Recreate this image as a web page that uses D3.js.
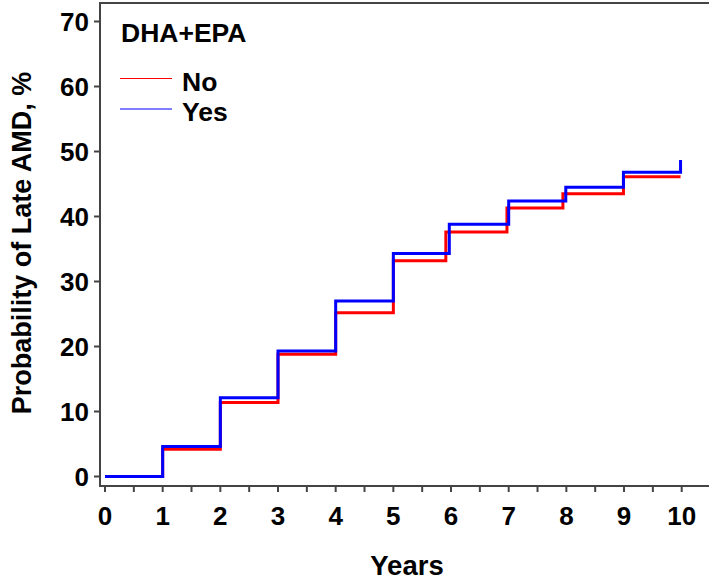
<!DOCTYPE html>
<html>
<head>
<meta charset="utf-8">
<script src="https://cdn.jsdelivr.net/npm/d3@7"></script>
<style>
  body { margin: 0; background: #fff; }
  svg { font-family: 'Liberation Sans', Arial, sans-serif; font-weight: bold; }
</style>
</head>
<body>
<svg id="chart"></svg>
<script>
// step data (years, cumulative %)
const noYears = [0, 1, 2, 3, 4, 5, 5.91, 6.97, 7.94, 8.99, 9.98];
const noProb = [0, 4.2, 11.4, 18.8, 25.2, 33.2, 37.6, 41.3, 43.5, 46.1, 46.1];
const yesYears = [0, 1, 2, 3, 4, 5, 5.97, 7.0, 7.99, 8.99, 9.98];
const yesProb = [0, 4.6, 12.1, 19.3, 27.0, 34.3, 38.8, 42.4, 44.5, 46.8, 48.7];
const xTicks = [0, 1, 2, 3, 4, 5, 6, 7, 8, 9, 10];
const yTicks = [0, 10, 20, 30, 40, 50, 60, 70];

const W = 709, H = 581;
const svg = d3.select('#chart').attr('width', W).attr('height', H);

const x = d3.scaleLinear().domain([0, 10]).range([105, 681.7]);
const y = d3.scaleLinear().domain([0, 70]).range([476.5, 21.5]);

// frame (right side falls outside the image)
svg.append('rect')
.attr('x', 100).attr('y', 3)
.attr('width', 620).attr('height', 483)
.attr('fill', 'none')
.attr('stroke', '#444')
.attr('stroke-width', 2);

// y ticks
svg.selectAll('.ytick')
.data(yTicks)
.enter()
.append('line')
.attr('x1', 94).attr('x2', 100)
.attr('y1', d => y(d)).attr('y2', d => y(d))
.attr('stroke', '#444').attr('stroke-width', 2);

svg.selectAll('.ylab')
.data(yTicks)
.enter()
.append('text')
.attr('x', 89)
.attr('y', d => y(d) + 9.5)
.attr('text-anchor', 'end')
.style('font-size', '26px')
.text(d => d);

// x ticks every half year, labels on whole years
svg.selectAll('.xtick')
.data(d3.range(0, 10.01, 0.5))
.enter()
.append('line')
.attr('x1', d => x(d)).attr('x2', d => x(d))
.attr('y1', 486).attr('y2', 492)
.attr('stroke', '#444').attr('stroke-width', 2);

svg.selectAll('.xlab')
.data(xTicks)
.enter()
.append('text')
.attr('x', d => x(d))
.attr('y', 525)
.attr('text-anchor', 'middle')
.style('font-size', '26px')
.text(d => d);

svg.append('text')
.attr('x', 407)
.attr('y', 575)
.attr('text-anchor', 'middle')
.style('font-size', '27.5px')
.text('Years');

svg.append('text')
.attr('transform', 'rotate(-90)')
.attr('x', -243)
.attr('y', 31)
.attr('text-anchor', 'middle')
.style('font-size', '27px')
.text('Probability of Late AMD, %');

const series = [
  {label: 'No', years: noYears, prob: noProb, color: '#ff0000'},
  {label: 'Yes', years: yesYears, prob: yesProb, color: '#0000ff'}
];

const line = d3.line()
.x(d => x(d[0]))
.y(d => y(d[1]))
.curve(d3.curveStepAfter);

series.forEach(s => {
  svg.append('path')
  .datum(s.years.map((t, i) => [t, s.prob[i]]))
  .attr('fill', 'none')
  .attr('stroke', s.color)
  .attr('stroke-width', 3)
  .attr('d', line);
});

// legend
svg.append('text')
.attr('x', 121)
.attr('y', 42)
.style('font-size', '26.5px')
.text('DHA+EPA');

series.forEach((s, i) => {
  const ly = 78.5 + i * 30.5;
  svg.append('line')
  .attr('x1', 120).attr('x2', 172)
  .attr('y1', ly).attr('y2', ly)
  .attr('stroke', s.color).attr('stroke-width', 1.2);
  svg.append('text')
  .attr('x', 182)
  .attr('y', ly + 12)
  .style('font-size', '26.5px')
  .text(s.label);
});
</script>
</body>
</html>
